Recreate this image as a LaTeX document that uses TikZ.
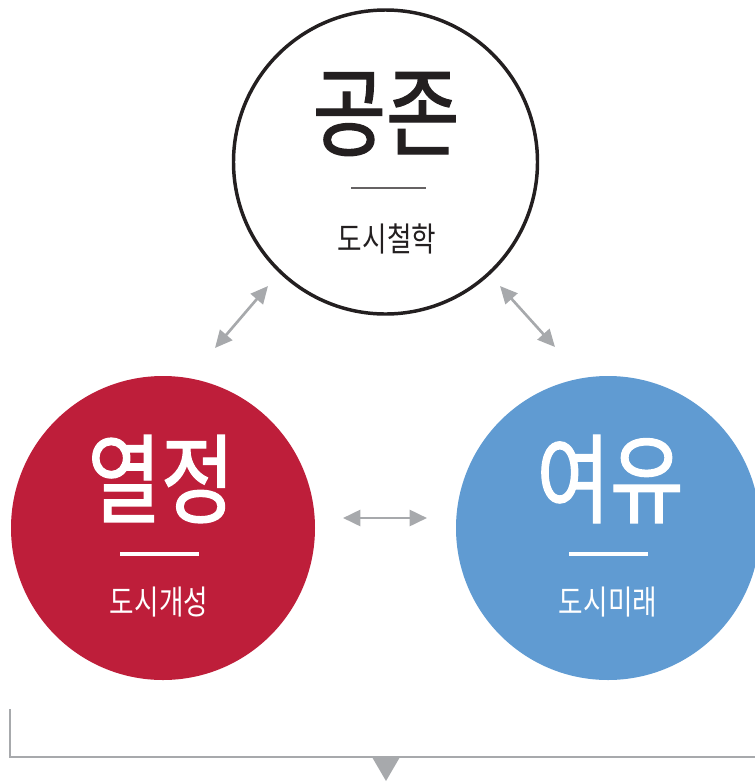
\documentclass[tikz,border=0pt]{standalone}
\usepackage{fontspec}
\usetikzlibrary{arrows.meta}
\newfontfamily\krtitle[FakeStretch=0.82,FakeBold=1.3]{Noto Sans CJK KR}
\newfontfamily\krsub[FakeStretch=0.8]{Noto Sans CJK KR}
\definecolor{redc}{RGB}{190,30,58}
\definecolor{bluec}{RGB}{96,155,210}
\definecolor{arrowgray}{RGB}{167,169,172}
\definecolor{inkc}{RGB}{35,31,32}
\tikzset{
  bigcircle/.style={circle, minimum size=228pt, inner sep=0pt},
  titletext/.style={font=\krtitle\fontsize{73}{73}\selectfont, inner sep=0pt},
  subtext/.style={font=\krsub\fontsize{25}{25}\selectfont, inner sep=0pt},
  biarrow/.style={draw=arrowgray, line width=2pt, {Triangle[length=13pt,width=12pt]}-{Triangle[length=13pt,width=12pt]}},
  bracket/.style={draw=arrowgray, line width=1.8pt}
}
\begin{document}
\begin{tikzpicture}[x=0.75pt,y=-0.75pt]
\useasboundingbox (0,0) rectangle (755,783);
% circles
\node[bigcircle, draw=inkc, line width=2.6pt, fill=white] (top) at (385.5,162) {};
\node[bigcircle, fill=redc] (red) at (163,528) {};
\node[bigcircle, fill=bluec] (blue) at (608,528) {};
% titles
\node[titletext, text=inkc] (t1) at (386,114) {공존};
\node[titletext, text=white] (t2) at (161,479) {열정};
\node[titletext, text=white] (t3) at (610,479) {여유};
% rules
\coordinate (r1a) at (351,188); \coordinate (r1b) at (426,188);
\draw[draw=inkc!70, line width=1pt] (r1a) -- (r1b);
\coordinate (r2a) at (120,554); \coordinate (r2b) at (199,554);
\draw[draw=white, line width=2.4pt] (r2a) -- (r2b);
\coordinate (r3a) at (569,554); \coordinate (r3b) at (648,554);
\draw[draw=white, line width=2.4pt] (r3a) -- (r3b);
% subtitles
\node[subtext, text=inkc] (s1) at (387,239) {도시철학};
\node[subtext, text=white] (s2) at (159,602) {도시개성};
\node[subtext, text=white] (s3) at (608,602) {도시미래};
% arrows
\coordinate (a1) at (215,348); \coordinate (a2) at (268,286);
\coordinate (b1) at (500,286); \coordinate (b2) at (555,347);
\coordinate (c1) at (343,518); \coordinate (c2) at (427,518);
\draw[biarrow] (a1) -- (a2);
\draw[biarrow] (b1) -- (b2);
\draw[biarrow] (c1) -- (c2);
% bracket
\coordinate (k1) at (10,709); \coordinate (k2) at (10,757); \coordinate (k3) at (756,757);
\draw[bracket] (k1) -- (k2) -- (k3);
\coordinate (tri1) at (372,757); \coordinate (tri2) at (400,757); \coordinate (tri3) at (386,781);
\fill[arrowgray] (tri1) -- (tri2) -- (tri3) -- cycle;
\end{tikzpicture}
\end{document}
